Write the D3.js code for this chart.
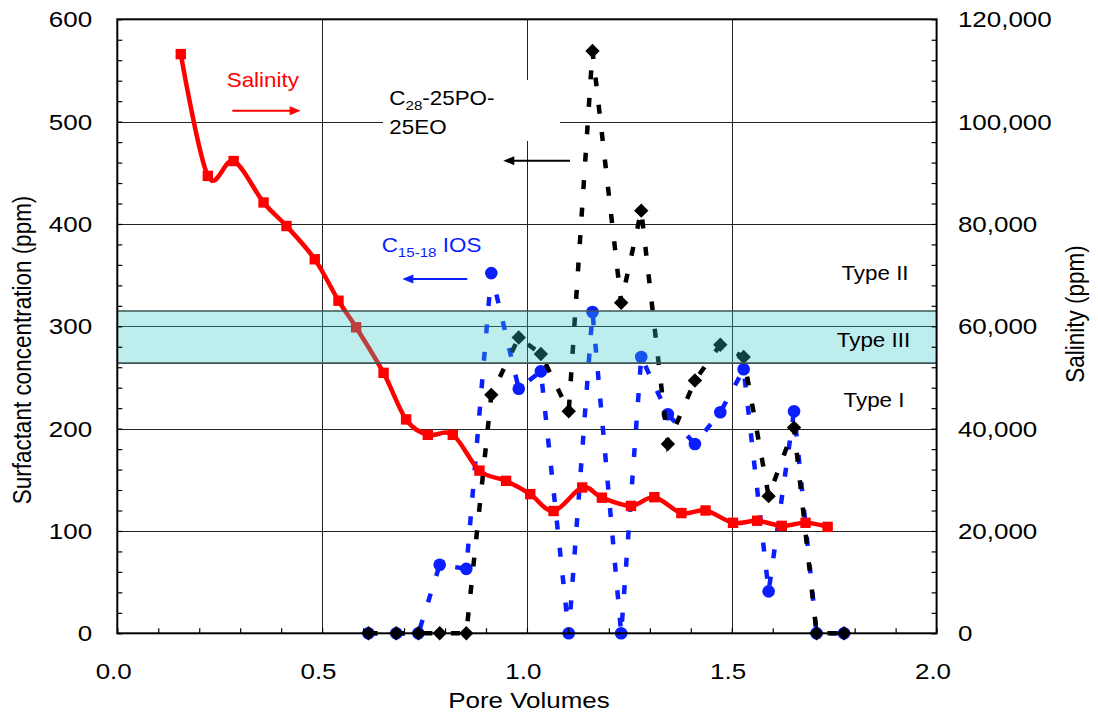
<!DOCTYPE html>
<html>
<head>
<meta charset="utf-8">
<script src="https://cdn.jsdelivr.net/npm/d3@7"></script>
<style>
  html, body { margin: 0; padding: 0; background: #fff; }
  svg { display: block; font-family: "Liberation Sans", Arial, sans-serif; }
</style>
</head>
<body>
<svg id="chart" width="1098" height="719"></svg>
<script>
// Pore volumes at which effluent surfactant was sampled
const pvSurf = [0.613, 0.681, 0.735, 0.787, 0.852, 0.913, 0.980, 1.034, 1.102, 1.160,
                1.230, 1.279, 1.344, 1.410, 1.472, 1.529, 1.590, 1.652, 1.707, 1.774];
// C28-25PO-25EO concentration (ppm)
const c28 = [0, 0, 0, 0, 0, 233, 289, 273, 217, 569,
             323, 413, 185, 247, 282, 270, 134, 201, 0, 0];
// C15-18 IOS concentration (ppm)
const ios = [0, 0, 0, 67, 63, 352, 239, 256, 0, 314,
             0, 270, 214, 185, 216, 258, 41, 217, 0, 0];

// Pore volumes for the salinity samples
const pvSal = [0.155, 0.221, 0.284, 0.357, 0.413, 0.482, 0.540, 0.583, 0.650, 0.705,
               0.758, 0.819, 0.884, 0.949, 1.008, 1.065, 1.135, 1.183, 1.254, 1.311,
               1.377, 1.436, 1.503, 1.562, 1.622, 1.680, 1.734];
// Effluent salinity (ppm)
const salinity = [113200, 89400, 92300, 84200, 79600, 73100, 65000, 59800, 50900, 41800,
                  38800, 38800, 31800, 29800, 27200, 23900, 28500, 26500, 24900, 26600,
                  23500, 24000, 21600, 22000, 21000, 21600, 20800];

// Salinity window of the Type III microemulsion (ppm)
const typeIIIBand = [52800, 63000];

// Axis ticks
const xTicks = [0, 0.5, 1.0, 1.5, 2.0];
const yTicks = [0, 100, 200, 300, 400, 500, 600];
const salTicks = [0, 20000, 40000, 60000, 80000, 100000, 120000];

const svg = d3.select("#chart");
const L = 117.3, R = 936.6, T = 19.3, B = 633.3;
const SX = 1.18;   // horizontal glyph stretch for axis text
const SXA = 1.12;  // horizontal glyph stretch for annotation text

const x = d3.scaleLinear().domain([0, 2]).range([L, R]);
const y = d3.scaleLinear().domain([0, 600]).range([B, T]);
const ySal = d3.scaleLinear().domain([0, 120000]).range([B, T]);

// ---- gridlines ----
const grid = svg.append("g").attr("stroke", "#222").attr("stroke-width", 1);
grid.selectAll("line.h").data(yTicks.filter(d => d > 0 && d < 600)).join("line")
  .attr("x1", L).attr("x2", R)
  .attr("y1", d => Math.round(y(d)) + 0.5).attr("y2", d => Math.round(y(d)) + 0.5);
grid.selectAll("line.v").data(xTicks.filter(d => d > 0 && d < 2)).join("line")
  .attr("y1", T).attr("y2", B)
  .attr("x1", d => Math.round(x(d)) + 0.5).attr("x2", d => Math.round(x(d)) + 0.5);

// white backing for the surfactant annotation
svg.append("rect").attr("x", 383).attr("y", 80).attr("width", 177).attr("height", 61)
  .attr("fill", "#fff");

// ---- series ----
const idx = d3.range(pvSurf.length);
const dash = "9,18.5";

function diamondPath(s) {
  return `M0,${-s}L${s},0L0,${s}L${-s},0Z`;
}

// C15-18 IOS
const gIos = svg.append("g");
gIos.append("path")
  .attr("d", d3.line().x(i => x(pvSurf[i])).y(i => y(ios[i]))(idx))
  .attr("fill", "none").attr("stroke", "#0a1eff").attr("stroke-width", 4.5)
  .attr("stroke-dasharray", dash);
gIos.selectAll("circle").data(idx).join("circle")
  .attr("cx", i => x(pvSurf[i])).attr("cy", i => y(ios[i])).attr("r", 6.3)
  .attr("fill", "#0a1eff");

// C28-25PO-25EO
const gC28 = svg.append("g");
gC28.append("path")
  .attr("d", d3.line().x(i => x(pvSurf[i])).y(i => y(c28[i]))(idx))
  .attr("fill", "none").attr("stroke", "#000").attr("stroke-width", 4.5)
  .attr("stroke-dasharray", dash);
gC28.selectAll("path.m").data(idx).join("path").attr("class", "m")
  .attr("transform", i => `translate(${x(pvSurf[i])},${y(c28[i])})`)
  .attr("d", diamondPath(7.2))
  .attr("fill", "#000");

// Salinity
const sIdx = d3.range(pvSal.length);
const gSal = svg.append("g");
gSal.append("path")
  .attr("d", d3.line().curve(d3.curveCatmullRom.alpha(0))
    .x(i => x(pvSal[i])).y(i => ySal(salinity[i]))(sIdx))
  .attr("fill", "none").attr("stroke", "#ff0000").attr("stroke-width", 4.5)
  .attr("stroke-linejoin", "round");
gSal.selectAll("rect").data(sIdx).join("rect")
  .attr("x", i => x(pvSal[i]) - 5.2).attr("y", i => ySal(salinity[i]) - 5.2)
  .attr("width", 10.4).attr("height", 10.4)
  .attr("fill", "#ff0000");

// ---- Type III band ----
const bandTop = ySal(typeIIIBand[1]), bandBot = ySal(typeIIIBand[0]);
svg.append("rect")
  .attr("x", L).attr("width", R - L)
  .attr("y", bandTop).attr("height", bandBot - bandTop)
  .attr("fill", "rgb(50,200,200)").attr("fill-opacity", 0.32);
svg.append("g").attr("stroke", "#3d5555").attr("stroke-width", 1.6)
  .selectAll("line").data([bandTop, bandBot]).join("line")
  .attr("x1", L).attr("x2", R).attr("y1", d => d).attr("y2", d => d);

// ---- frame ----
svg.append("rect").attr("x", L).attr("y", T).attr("width", R - L).attr("height", B - T)
  .attr("fill", "none").attr("stroke", "#000").attr("stroke-width", 2);

// ---- minor ticks (inside) ----
function minor(gen, tf) {
  const g = svg.append("g").attr("transform", tf).call(gen);
  g.select(".domain").remove();
  g.selectAll(".tick line").attr("stroke", "#000").attr("stroke-width", 1.2);
  g.selectAll(".tick text").remove();
}
minor(d3.axisLeft(y).tickValues(d3.range(0, 601, 20)).tickSize(-5), `translate(${L},0)`);
minor(d3.axisRight(ySal).tickValues(d3.range(0, 120001, 4000)).tickSize(-5), `translate(${R},0)`);
minor(d3.axisBottom(x).tickValues(d3.range(0, 2.001, 0.1)).tickSize(-5), `translate(0,${B})`);

// ---- tick labels ----
function labelAxis(gen, tf, fmt) {
  const g = svg.append("g").attr("transform", tf).call(gen.tickFormat(fmt));
  g.select(".domain").remove();
  g.selectAll(".tick line").remove();
  g.selectAll(".tick text")
    .attr("font-family", "Liberation Sans, Arial, sans-serif")
    .attr("font-size", 22).attr("fill", "#000")
    .attr("transform", `scale(${SX},1)`);
  return g;
}
const gl = labelAxis(d3.axisLeft(y).tickValues(yTicks).tickSize(0).tickPadding(21.4),
  `translate(${L},0)`, d3.format("d"));
gl.selectAll(".tick text").attr("dy", "0.34em");
const gr = labelAxis(d3.axisRight(ySal).tickValues(salTicks).tickSize(0).tickPadding(18.1),
  `translate(${R},0)`, d3.format(",d"));
gr.selectAll(".tick text").attr("dy", "0.34em");
const gb = labelAxis(d3.axisBottom(x).tickValues(xTicks).tickSize(0).tickPadding(30.4),
  `translate(0,${B})`, d3.format(".1f"));
gb.selectAll(".tick text").attr("x", -3.5);

// ---- axis titles ----
function text(x0, y0, str, o = {}) {
  const t = svg.append("text")
    .attr("transform", `translate(${x0},${y0})` + (o.rotate ? ` rotate(${o.rotate})` : "") +
      (o.rotate ? ` scale(1,${o.sx || SX})` : ` scale(${o.sx || SX},1)`))
    .attr("font-size", o.size || 22)
    .attr("fill", o.fill || "#000")
    .attr("text-anchor", o.anchor || "start");
  if (str) t.text(str);
  return t;
}
text(529, 708, "Pore Volumes", { anchor: "middle", size: 22 });
text(31, 350, "Surfactant concentration (ppm)", { anchor: "middle", size: 22.5, rotate: -90 });
text(1084, 314, "Salinity (ppm)", { anchor: "middle", size: 22.5, rotate: -90 });

// ---- annotations ----
function arrow(x1, x2, yy, color) {
  // arrow pointing from x1 toward x2
  const dir = Math.sign(x2 - x1);
  const g = svg.append("g");
  g.append("line").attr("x1", x1).attr("x2", x2 - dir * 8).attr("y1", yy).attr("y2", yy)
    .attr("stroke", color).attr("stroke-width", 2);
  g.append("path")
    .attr("d", `M${x2},${yy}L${x2 - dir * 11},${yy - 4.5}L${x2 - dir * 11},${yy + 4.5}Z`)
    .attr("fill", color);
}

text(226.7, 86.7, "Salinity", { size: 20, sx: SXA, fill: "#ff0000" });
arrow(232.3, 300.7, 110.7, "#ff0000");

const t1 = text(389.3, 105, null, { size: 20, sx: SXA });
t1.append("tspan").text("C");
t1.append("tspan").attr("font-size", 13.5).attr("dy", 5).text("28");
t1.append("tspan").attr("dy", -5).text("-25PO-");
text(389.3, 134, "25EO", { size: 20, sx: SXA });
arrow(570, 503.3, 160.7, "#000");

const t2 = text(381.7, 251.7, null, { size: 20, sx: SXA, fill: "#0a1eff" });
t2.append("tspan").text("C");
t2.append("tspan").attr("font-size", 13.5).attr("dy", 5).text("15-18");
t2.append("tspan").attr("dy", -5).text(" IOS");
arrow(467.3, 402.3, 279, "#0a1eff");

text(875, 280, "Type II", { size: 20, sx: SXA, anchor: "middle" });
text(873.5, 346.7, "Type III", { size: 20, sx: SXA, anchor: "middle" });
text(874, 406.7, "Type I", { size: 20, sx: SXA, anchor: "middle" });
</script>
</body>
</html>
